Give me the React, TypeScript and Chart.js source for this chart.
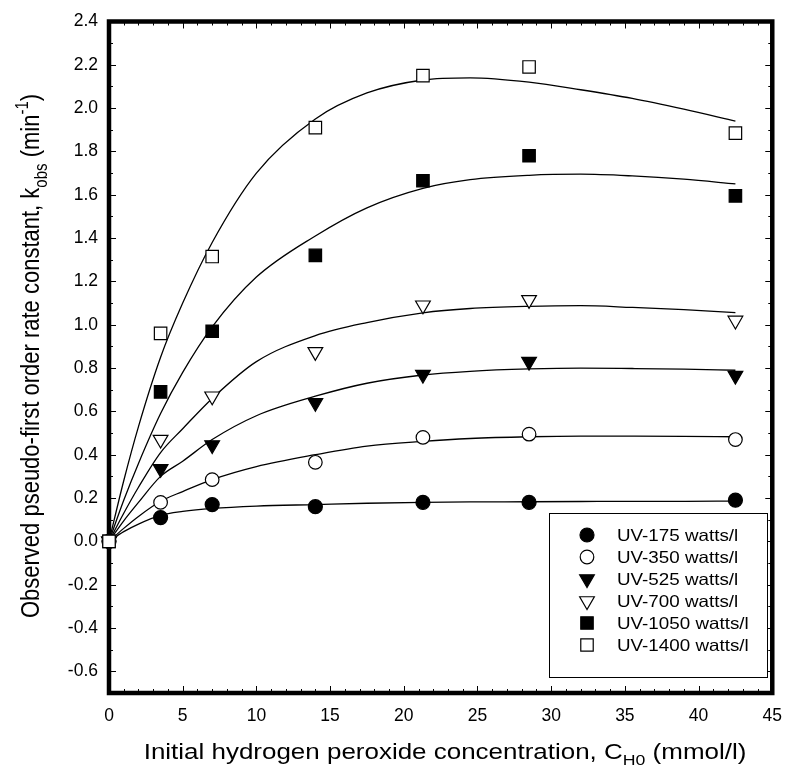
import React, { useEffect, useRef } from 'react';
import { Chart, registerables } from 'chart.js';
import { drawPoint } from 'chart.js/helpers';

Chart.register(...registerables);

// Measured data (x = initial H2O2 concentration, mmol/l)
const xValues = [0, 3.5, 7, 14, 21.3, 28.5, 42.5];
const uv175 = [0, 0.11, 0.17, 0.16, 0.18, 0.18, 0.19];
const uv350 = [0, 0.18, 0.285, 0.365, 0.48, 0.495, 0.47];
const uv525 = [0, 0.335, 0.445, 0.64, 0.77, 0.83, 0.765];
const uv700 = [0, 0.47, 0.67, 0.875, 1.09, 1.115, 1.02];
const uv1050 = [0, 0.69, 0.97, 1.32, 1.665, 1.78, 1.595];
const uv1400 = [0, 0.96, 1.315, 1.91, 2.15, 2.19, 1.885];

// Fitted curves
const fitX = [0, 1, 2, 3.5, 5, 7, 10, 14, 17.5, 21.3, 24.5, 28.5, 32, 35.5, 39, 42.5];
const fit175 = [0, 0.045, 0.08, 0.12, 0.138, 0.152, 0.163, 0.17, 0.176, 0.18, 0.182, 0.183, 0.184, 0.185, 0.185, 0.186];
const fit350 = [0, 0.06, 0.115, 0.185, 0.23, 0.285, 0.345, 0.4, 0.44, 0.462, 0.475, 0.483, 0.486, 0.486, 0.485, 0.483];
const fit525 = [0, 0.095, 0.18, 0.3, 0.37, 0.47, 0.58, 0.67, 0.73, 0.768, 0.785, 0.796, 0.8, 0.798, 0.795, 0.79];
const fit700 = [0, 0.13, 0.25, 0.41, 0.52, 0.66, 0.83, 0.95, 1.01, 1.055, 1.075, 1.085, 1.088, 1.08, 1.07, 1.056];
const fit1050 = [0, 0.19, 0.36, 0.59, 0.78, 0.99, 1.22, 1.41, 1.54, 1.63, 1.67, 1.69, 1.695, 1.687, 1.672, 1.65];
const fit1400 = [0, 0.28, 0.53, 0.85, 1.1, 1.38, 1.7, 1.95, 2.07, 2.13, 2.14, 2.12, 2.085, 2.045, 1.995, 1.94];

const seriesLabels = ['UV-175 watts/l', 'UV-350 watts/l', 'UV-525 watts/l', 'UV-700 watts/l', 'UV-1050 watts/l', 'UV-1400 watts/l'];

const xTicks = [0, 5, 10, 15, 20, 25, 30, 35, 40, 45];
const yTicks = [-0.6, -0.4, -0.2, 0, 0.2, 0.4, 0.6, 0.8, 1.0, 1.2, 1.4, 1.6, 1.8, 2.0, 2.2, 2.4];

const FONT = "'Liberation Sans', Arial, Helvetica, sans-serif";

const measured = [uv175, uv350, uv525, uv700, uv1050, uv1400];
const fits = [fit175, fit350, fit525, fit700, fit1050, fit1400];

const markerStyles = [
  { pointStyle: 'circle', rotation: 0, radius: 7, fill: '#000' },
  { pointStyle: 'circle', rotation: 0, radius: 6.8, fill: '#fff' },
  { pointStyle: 'triangle', rotation: 180, radius: 8.5, fill: '#000' },
  { pointStyle: 'triangle', rotation: 180, radius: 8.5, fill: '#fff' },
  { pointStyle: 'rect', rotation: 0, radius: 8.8, fill: '#000' },
  { pointStyle: 'rect', rotation: 0, radius: 8.8, fill: '#fff' },
];

type Part = { t: string; sub?: boolean; sup?: boolean };

function drawRich(
  ctx: CanvasRenderingContext2D,
  parts: Part[],
  size: number,
  cx: number,
  cy: number,
  rot: number,
  along: number,
  perp: number
) {
  const small = Math.round(size * 0.68);
  const widths = parts.map((p) => {
    ctx.font = `${p.sub || p.sup ? small : size}px ${FONT}`;
    return ctx.measureText(p.t).width;
  });
  const total = widths.reduce((a, b) => a + b, 0);
  ctx.save();
  ctx.translate(cx, cy);
  ctx.rotate(rot);
  ctx.scale(along, perp);
  ctx.fillStyle = '#000';
  ctx.textBaseline = 'alphabetic';
  ctx.textAlign = 'left';
  let x = -total / 2;
  const base = size * 0.36;
  parts.forEach((p, i) => {
    ctx.font = `${p.sub || p.sup ? small : size}px ${FONT}`;
    let dy = base;
    if (p.sub) dy = base + size * 0.28;
    if (p.sup) dy = base - size * 0.42;
    ctx.fillText(p.t, x, dy);
    x += widths[i];
  });
  ctx.restore();
}

const framePlugin = {
  id: 'frameTicks',
  beforeDatasetsDraw(chart: any) {
    const { ctx, chartArea } = chart;
    const { left, right, top, bottom } = chartArea;
    const xs = chart.scales.x;
    const ys = chart.scales.y;
    ctx.save();
    ctx.strokeStyle = '#000';
    ctx.lineWidth = 1;
    ctx.beginPath();
    for (let v = 0; v <= 45; v += 1) {
      const px = Math.round(xs.getPixelForValue(v)) + 0.5;
      const len = v % 5 === 0 ? 7 : 4;
      ctx.moveTo(px, bottom);
      ctx.lineTo(px, bottom - len);
      ctx.moveTo(px, top);
      ctx.lineTo(px, top + len);
    }
    for (let k = -7; k <= 24; k += 1) {
      const py = Math.round(ys.getPixelForValue(k / 10)) + 0.5;
      const len = k % 2 === 0 ? 7 : 4;
      ctx.moveTo(left, py);
      ctx.lineTo(left + len, py);
      ctx.moveTo(right, py);
      ctx.lineTo(right - len, py);
    }
    ctx.stroke();
    ctx.lineWidth = 4.5;
    ctx.strokeRect(left, top, right - left, bottom - top);
    ctx.restore();
  },
};

const overlayPlugin = {
  id: 'overlay',
  afterDraw(chart: any) {
    const { ctx } = chart;
    // Axis titles
    drawRich(
      ctx,
      [{ t: 'Initial hydrogen peroxide concentration, C' }, { t: 'H0', sub: true }, { t: ' (mmol/l)' }],
      22,
      445,
      751,
      0,
      1.18,
      1
    );
    drawRich(
      ctx,
      [
        { t: 'Observed pseudo-first order rate constant, k' },
        { t: 'obs', sub: true },
        { t: ' (min' },
        { t: '-1', sup: true },
        { t: ')' },
      ],
      22,
      30,
      356,
      -Math.PI / 2,
      1,
      1.18
    );
    // Legend box
    const bx = 549.5, by = 513.5, bw = 218, bh = 164;
    ctx.save();
    ctx.fillStyle = '#fff';
    ctx.fillRect(bx, by, bw, bh);
    ctx.strokeStyle = '#000';
    ctx.lineWidth = 1;
    ctx.strokeRect(bx, by, bw, bh);
    seriesLabels.forEach((label, i) => {
      const y = 535 + 22 * i;
      const m = markerStyles[i];
      ctx.fillStyle = m.fill;
      ctx.strokeStyle = '#000';
      ctx.lineWidth = 1.2;
      drawPoint(ctx, { pointStyle: m.pointStyle as any, rotation: m.rotation, radius: m.radius, borderWidth: 1.2 }, 587, y);
      ctx.save();
      ctx.translate(617, y + 1);
      ctx.scale(1.14, 1);
      ctx.fillStyle = '#000';
      ctx.font = `16.5px ${FONT}`;
      ctx.textAlign = 'left';
      ctx.textBaseline = 'middle';
      ctx.fillText(label, 0, 0);
      ctx.restore();
    });
    ctx.restore();
  },
};

export default function App() {
  const ref = useRef<HTMLCanvasElement | null>(null);

  useEffect(() => {
    const canvas = ref.current;
    if (!canvas) return;
    const datasets: any[] = [];
    fits.forEach((f, i) => {
      datasets.push({
        type: 'line',
        label: seriesLabels[i] + ' fit',
        data: fitX.map((x, j) => ({ x, y: f[j] })),
        borderColor: '#000',
        borderWidth: 1.3,
        pointRadius: 0,
        fill: false,
        cubicInterpolationMode: 'monotone',
        order: 20,
      });
    });
    measured.forEach((vals, i) => {
      const m = markerStyles[i];
      datasets.push({
        type: 'scatter',
        label: seriesLabels[i],
        data: xValues.map((x, j) => ({ x, y: vals[j] })),
        pointStyle: m.pointStyle,
        rotation: m.rotation,
        pointRadius: m.radius,
        pointHoverRadius: m.radius,
        backgroundColor: m.fill,
        borderColor: '#000',
        borderWidth: 1.2,
        showLine: false,
        clip: false,
        order: 5 - i,
      });
    });

    Chart.defaults.font.family = FONT;
    Chart.defaults.color = '#000';

    const chart = new Chart(canvas, {
      type: 'scatter',
      data: { datasets },
      options: {
        responsive: false,
        animation: false,
        layout: { padding: { left: 0, right: 12, top: 17.5, bottom: 0 } },
        plugins: { legend: { display: false }, tooltip: { enabled: false } },
        scales: {
          x: {
            type: 'linear',
            min: 0,
            max: 45,
            grid: { display: false, drawTicks: false },
            border: { display: false },
            ticks: { padding: 13, font: { size: 17.5, family: FONT }, color: '#000', maxRotation: 0 },
            afterBuildTicks: (s: any) => {
              s.ticks = xTicks.map((v) => ({ value: v }));
            },
            afterFit: (s: any) => {
              s.height = 80;
            },
          },
          y: {
            type: 'linear',
            min: -0.7,
            max: 2.4,
            grid: { display: false, drawTicks: false },
            border: { display: false },
            ticks: {
              padding: 11,
              font: { size: 17.5, family: FONT },
              color: '#000',
              callback: (v: any) => Number(v).toFixed(1),
            },
            afterBuildTicks: (s: any) => {
              s.ticks = yTicks.map((v) => ({ value: v }));
            },
            afterFit: (s: any) => {
              s.width = 109;
            },
          },
        },
      } as any,
      plugins: [framePlugin, overlayPlugin],
    });
    return () => chart.destroy();
  }, []);

  return (
    <div style={{ position: 'fixed', left: 0, top: 0, width: 795, height: 773, background: '#fff' }}>
      <canvas ref={ref} width={795} height={773} style={{ display: 'block' }} />
    </div>
  );
}
